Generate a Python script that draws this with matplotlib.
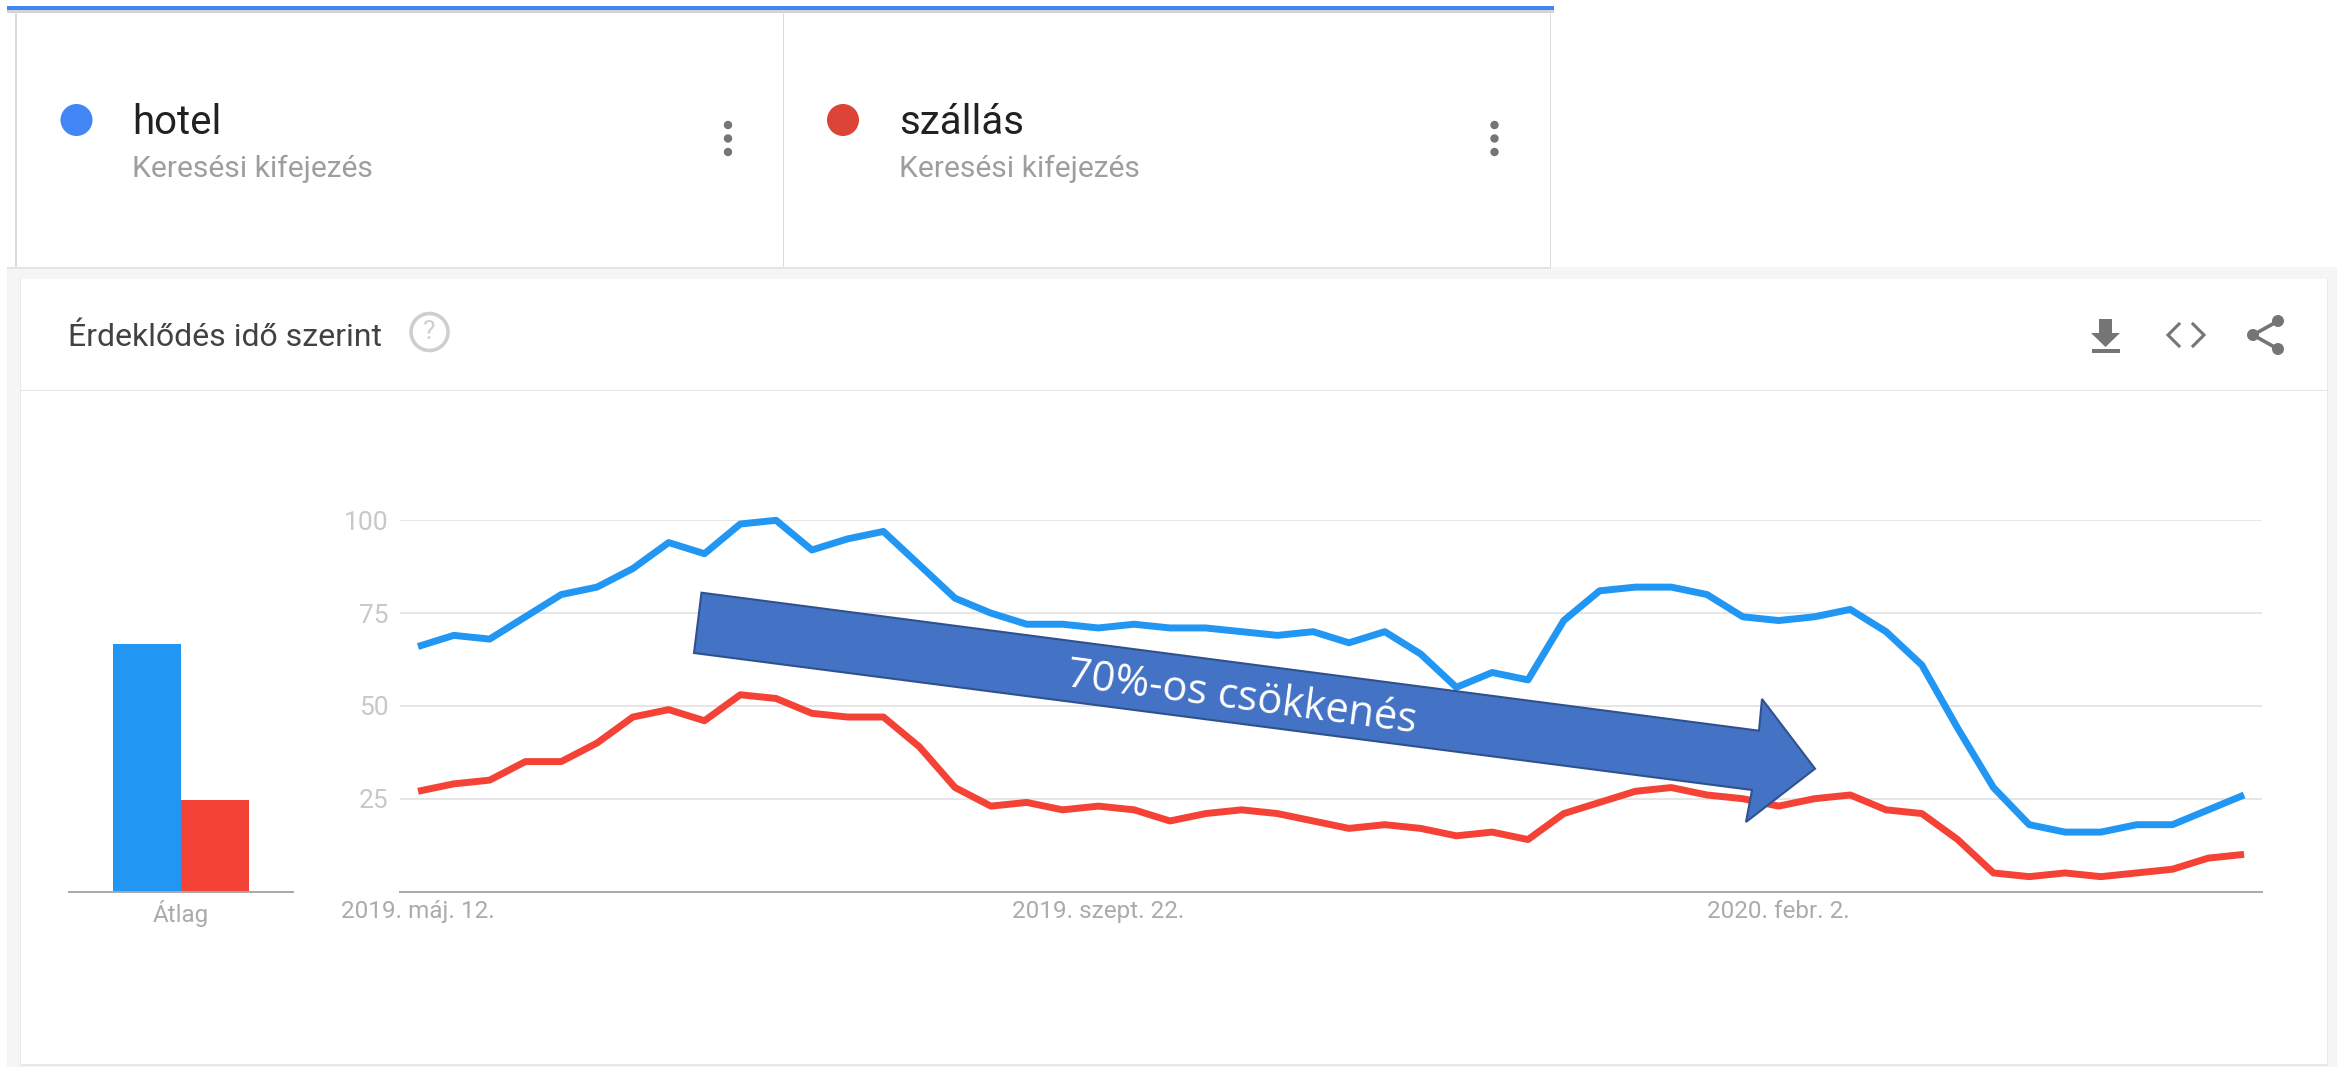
import matplotlib
matplotlib.use("Agg")
import matplotlib.pyplot as plt
from matplotlib.patches import Rectangle, Circle, Polygon

W, H = 2348, 1067
plt.rcParams['font.family'] = ['Roboto', 'DejaVu Sans']

terms = ['hotel', 'szállás']
term_subtitle = 'Keresési kifejezés'
panel_title = 'Érdeklődés idő szerint'
hotel = [66, 69, 68, 74, 80, 82, 87, 94, 91, 99, 100, 92, 95, 97, 88, 79, 75, 72, 72, 71,
         72, 71, 71, 70, 69, 70, 67, 70, 64, 55, 59, 57, 73, 81, 82, 82, 80, 74, 73, 74,
         76, 70, 61, 44, 28, 18, 16, 16, 18, 18, 22, 26]
szallas = [27, 29, 30, 35, 35, 40, 47, 49, 46, 53, 52, 48, 47, 47, 39, 28, 23, 24, 22, 23,
           22, 19, 21, 22, 21, 19, 17, 18, 17, 15, 16, 14, 21, 24, 27, 28, 26, 25, 23, 25,
           26, 22, 21, 14, 5, 4, 5, 4, 5, 6, 9, 10]
avg_values = [66.8, 24.6]
avg_label = 'Átlag'
y_ticks = [25, 50, 75, 100]
x_tick_pos = [0, 19, 38]
x_tick_labels = ['2019. máj. 12.', '2019. szept. 22.', '2020. febr. 2.']
arrow_text = '70%-os csökkenés'

BLUE, RED = '#2196f3', '#f44336'
DOT_BLUE, DOT_RED = '#4285f4', '#db4437'

fig = plt.figure(figsize=(W / 100, H / 100), dpi=100, facecolor='white')

def px_axes(l, t, r, b, **kw):
    return fig.add_axes([l / W, 1 - b / H, (r - l) / W, (b - t) / H], **kw)

# page chrome, in pixel coordinates
bg = px_axes(0, 0, W, H, zorder=0)
bg.set_xlim(0, W); bg.set_ylim(H, 0); bg.axis('off')

def rect(x0, y0, x1, y1, c, z=1):
    bg.add_patch(Rectangle((x0, y0), x1 - x0, y1 - y0, fc=c, ec='none', zorder=z))

rect(7, 267, 2337, H, '#f5f5f5')
rect(20, 279, 2328, 1066, '#e9e9e9', 2)
rect(21, 279, 2327, 1064, 'white', 2)
rect(21, 389.5, 2327, 391, '#e6e6e6', 3)
rect(7, 9, 1554, 12.5, '#d4d4d4', 1)
rect(7, 5.5, 1554, 9.5, DOT_BLUE, 2)
rect(15, 9, 16.5, 268, '#dcdcdc')
rect(782.5, 9, 784, 268, '#dcdcdc')
rect(1549.5, 9, 1551, 268, '#dcdcdc')
rect(7, 267, 1551, 269, '#e4e4e4', 3)

for x0, dot, name, dots_x in [(132.5, DOT_BLUE, terms[0], 728), (899, DOT_RED, terms[1], 1494.5)]:
    bg.add_patch(Circle((x0 - 56, 120), 16, fc=dot, ec='none', zorder=3))
    bg.text(x0, 122, name, fontsize=29, color='#212121', va='center', ha='left', zorder=3)
    bg.text(x0, 169, term_subtitle, fontsize=21.6, color='#9e9e9e', va='center', ha='left', zorder=3)
    for y in (125, 138.5, 152):
        bg.add_patch(Circle((dots_x, y), 4.2, fc='#757575', ec='none', zorder=3))

bg.text(68, 337, panel_title, fontsize=23, color='#424242', va='center', ha='left', zorder=3)
bg.add_patch(Circle((429.5, 332), 18.5, fc='none', ec='#cfcfcf', lw=2.6, zorder=3))
bg.text(429.5, 332, '?', fontsize=19, color='#cfcfcf', va='center', ha='center', zorder=3)

GREY = '#757575'
bg.add_patch(Polygon([(2099, 319), (2112, 319), (2112, 333), (2120, 333), (2105.5, 347), (2091, 333), (2099, 333)],
                     fc=GREY, ec='none', zorder=3))
rect(2091.5, 349, 2119.5, 353, GREY, 3)
bg.plot([2179, 2168, 2179], [324, 335, 346], color=GREY, lw=2.2, zorder=3, solid_joinstyle='miter')
bg.plot([2193, 2204, 2193], [324, 335, 346], color=GREY, lw=2.2, zorder=3, solid_joinstyle='miter')
bg.plot([2278, 2253, 2278], [321, 335, 349], color=GREY, lw=2.6, zorder=3)
for cx, cy in [(2278, 321), (2253, 335), (2278, 349)]:
    bg.add_patch(Circle((cx, cy), 6, fc=GREY, ec='none', zorder=3))

# average bars
ax_bar = px_axes(69, 520.3, 293, 891.5, zorder=2)
ax_bar.patch.set_alpha(0)
ax_bar.bar([-0.5, 0.5], avg_values, width=1, color=[BLUE, RED])
ax_bar.set_xlim(-1.647, 1.647); ax_bar.set_ylim(0, 100)
for s in ('top', 'left', 'right'):
    ax_bar.spines[s].set_visible(False)
ax_bar.spines['bottom'].set_color('#a8a8a8'); ax_bar.spines['bottom'].set_linewidth(1.4)
ax_bar.set_yticks([])
ax_bar.set_xticks([0], [avg_label])
ax_bar.tick_params(axis='x', length=0, pad=6, labelsize=17.5, labelcolor='#ababab')

# time series
ax = px_axes(399.5, 520.3, 2262, 891.5, zorder=2)
ax.patch.set_alpha(0)
weeks = range(len(hotel))
ax.plot(weeks, hotel, color=BLUE, lw=5.0, clip_on=False, solid_joinstyle='round', solid_capstyle='butt', zorder=3)
ax.plot(weeks, szallas, color=RED, lw=5.0, clip_on=False, solid_joinstyle='round', solid_capstyle='butt', zorder=3)
ax.set_xlim(-0.517, 51.5); ax.set_ylim(0, 100)
ax.set_yticks(y_ticks)
ax.set_xticks(x_tick_pos, x_tick_labels)
ax.grid(axis='y', color='#e6e6e6', lw=1.4, zorder=1)
ax.set_axisbelow(True)
for s in ('top', 'left', 'right'):
    ax.spines[s].set_visible(False)
ax.spines['bottom'].set_color('#a8a8a8'); ax.spines['bottom'].set_linewidth(1.4)
ax.tick_params(axis='y', length=0, pad=8, labelsize=19, labelcolor='#c8c8c8')
ax.tick_params(axis='x', length=0, pad=6, labelsize=17.5, labelcolor='#ababab')

# annotation arrow on top
ov = px_axes(0, 0, W, H, zorder=5)
ov.set_xlim(0, W); ov.set_ylim(H, 0); ov.axis('off')
ov.add_patch(Polygon([(701.5, 592.7), (1759, 730.7), (1762, 699), (1815, 768.7), (1746, 822), (1752, 790), (694, 653)],
                     closed=True, fc='#4472c4', ec='#2f528f', lw=1.5, joinstyle='miter'))
ov.text(1242, 698, arrow_text, family=['Open Sans', 'DejaVu Sans'], fontsize=30, color='white',
        rotation=-7.6, rotation_mode='anchor', ha='center', va='center')

fig.savefig('out.png', dpi=100)
